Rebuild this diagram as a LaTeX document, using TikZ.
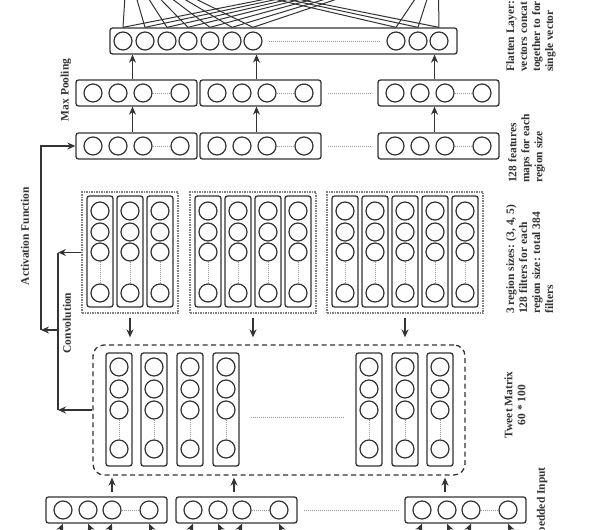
\documentclass[tikz,border=0pt]{standalone}
\usepackage{fontspec}
\setmainfont{Liberation Serif}
\usepackage{tikz}
\usetikzlibrary{
  arrows.meta,
  positioning,
  calc
}
\definecolor{ink}{HTML}{333333}

\begin{document}
\begin{tikzpicture}[
    x=1pt, y=-1pt,
    hbox/.style={draw=ink, line width=1.3pt, rounded corners=2.5pt,
                 minimum width=121pt, minimum height=26pt, inner sep=0pt},
    vbox/.style={draw=ink, line width=1.3pt, rounded corners=2.5pt,
                 minimum width=26pt, minimum height=112pt, inner sep=0pt},
    unit/.style={circle, draw=ink, line width=1.2pt, minimum size=18pt, inner sep=0pt},
    grp/.style={draw=gray, densely dotted, line width=1.5pt, inner sep=0pt},
    mat/.style={draw=ink, dash pattern=on 5pt off 3.5pt, line width=1.3pt,
                rounded corners=11pt, inner sep=0pt},
    gap/.style={gray!80, densely dotted, line width=1pt},
    flow/.style={draw=ink, line width=1.3pt, -{Stealth[length=8pt,width=7pt]}},
    ed/.style={draw=ink, line width=1pt},
    lab/.style={font=\bfseries\fontsize{11.5}{13}\selectfont, rotate=90,
                inner sep=0pt, text=ink}
  ]
    \useasboundingbox (0,0) rectangle (589,530);
    \clip (0,0) rectangle (589,530);

    % flatten layer
    \node[hbox, minimum width=347pt] (fl) at (283.5,41) {};
    \foreach \i/\x in {1/123,2/145,3/167,4/188,5/210,6/232,7/253,8/396,9/418,10/439}
      \node[unit] (fl\i) at (\x,41) {};
    \draw[gap] ([xshift=6pt]fl7.east) -- ([xshift=-6pt]fl8.west);

    % links to the next layer, above the picture
    \coordinate (o1) at (127,-35);
    \coordinate (o2) at (438,-35);
    \foreach \i in {1,...,10}{
      \draw[ed] (fl\i |- fl.north) -- (o1);
      \draw[ed] (fl\i |- fl.north) -- (o2);
    }

    % max pooling and feature maps
    \foreach \rw/\y in {mp/93,fm/146}{
      \foreach \j/\x in {1/76,2/200,3/378}{
        \node[hbox] (\rw\j) at (\x+60.5,\y) {};
        \foreach \k/\dx in {a/17,b/42,c/67,d/104}
          \node[unit] (\rw\j-\k) at (\x+\dx,\y) {};
        \draw[gap] (\rw\j-c) -- (\rw\j-d);
      }
      \draw[gap] ([xshift=6pt]\rw2.east) -- ([xshift=-6pt]\rw3.west);
    }
    \foreach \j in {1,2,3}{
      \draw[flow] ([xshift=-4pt]fm\j.north) -- ([xshift=-4pt]mp\j.south);
      \draw[flow] ([xshift=-4pt]mp\j.north) -- ([xshift=-4pt]mp\j.north |- fl.south);
    }

    % filters
    \foreach \g/\x/\n in {1/82/3,2/190/4,3/327/5}{
      \node[grp, minimum width={(30*\n+6)*1pt}, minimum height=121pt] (g\g) at ({\x+15*\n+3},252.5) {};
      \foreach \cl [evaluate=\cl as \cx using \x+18+30*(\cl-1)] in {1,...,\n}{
        \node[vbox, minimum height=111pt] (g\g-\cl) at (\cx,251.5) {};
        \foreach \k/\yy in {a/211,b/232,c/252,d/293}
          \node[unit] (g\g-\cl-\k) at (\cx,\yy) {};
        \draw[gap] (g\g-\cl-c) -- (g\g-\cl-d);
      }
    }

    % tweet matrix
    \node[mat, minimum width=372pt, minimum height=130pt] (tm) at (279,410) {};
    \foreach \cl/\x in {1/119,2/154,3/190,4/226,5/369,6/405,7/440}{
      \node[vbox, minimum height=113pt] (tc\cl) at (\x,409.5) {};
      \foreach \k/\yy in {a/367,b/389,c/410,d/449}
        \node[unit] (tc\cl-\k) at (\x,\yy) {};
      \draw[gap] (tc\cl-c) -- (tc\cl-d);
    }
    \draw[gap] ([xshift=11pt,yshift=-8pt]tc4.east) -- ([xshift=-11pt,yshift=-8pt]tc5.west);
    \foreach \g in {1,2,3}
      \draw[flow, shorten <=4pt, shorten >=7pt] (g\g.south) -- (g\g.south |- tm.north);

    % embedded input
    \foreach \j/\x in {1/46,2/176,3/405}{
      \node[hbox] (in\j) at (\x+60.5,510) {};
      \foreach \k/\dx in {a/17,b/42,c/66,d/103}
        \node[unit] (in\j-\k) at (\x+\dx,510) {};
      \draw[gap] (in\j-c) -- (in\j-d);
      \foreach \k/\dd in {a/-22,b/22,c/-22,d/22}{
        \coordinate (w\j\k) at ($(in\j-\k |- in\j.south)+(\dd,50)$);
        \draw[flow, line width=1pt] (w\j\k) -- (in\j-\k |- in\j.south);
      }
    }
    \draw[gap] ([xshift=6pt]in2.east) -- ([xshift=-6pt]in3.west);
    \foreach \j/\s in {1/5.5,2/-2.5,3/-20.5}
      \draw[flow, shorten <=4pt, shorten >=2pt] ([xshift=\s pt]in\j.north) -- ([xshift=\s pt]in\j.north |- tm.south);

    % convolution and activation
    \coordinate (cv) at (58,330);
    \coordinate (af) at (41,330);
    \draw[flow] (g1.west) -- (g1.west -| cv);
    \draw[flow] (tm.west) -- (tm.west -| cv);
    \draw[draw=ink, line width=1.3pt] (g1.west -| cv) -- (tm.west -| cv);
    \draw[flow] (cv) -- (af);
    \draw[flow] (af) |- (fm1.west);

    % labels
    \node[lab] (lmp) at (66,90) {Max Pooling};
    \node[lab] (lact) at (25,236) {Activation Function};
    \node[lab] (lconv) at (67,323) {Convolution};
    \node[lab, align=left, anchor=north west] (lfl) at (506,72)
      {Flatten Layer:\\vectors concat\\together to for\\single vector};
    \node[lab, align=left, anchor=north west] (lfm) at (508,183)
      {128 features\\maps for each\\region size};
    \node[lab, align=left, anchor=north west] (lrs) at (506,314)
      {3 region sizes: (3, 4, 5)\\128 filters for each\\region size: total 384\\filters};
    \node[lab, align=center] (ltm) at (515,405) {Tweet Matrix\\60 * 100};
    \node[lab, anchor=east] (lin) at (542,467) {Embedded Input};
  \end{tikzpicture}
\end{document}
